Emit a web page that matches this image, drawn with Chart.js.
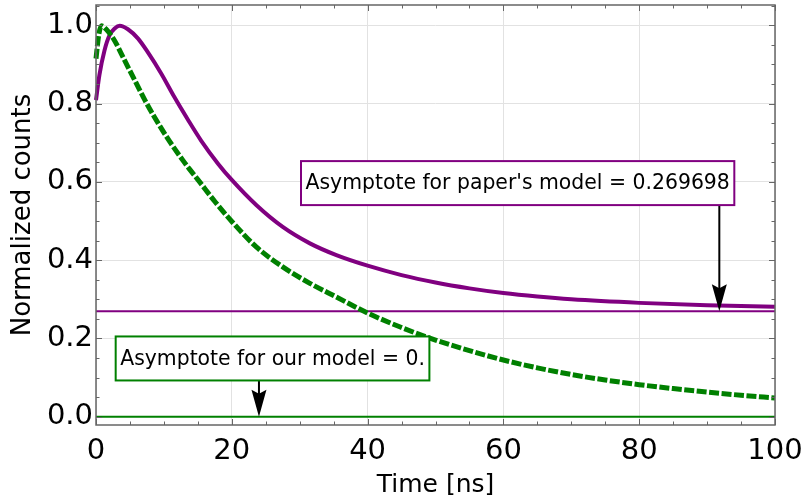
<!DOCTYPE html>
<html>
<head>
<meta charset="utf-8">
<script src="https://cdn.jsdelivr.net/npm/chart.js@4.4.0/dist/chart.umd.min.js"></script>
<style>
  body { margin: 0; background: #fff; }
  #wrap { width: 805px; height: 504px; }
</style>
</head>
<body>
<div id="wrap"><canvas id="decayChart" width="805" height="504"></canvas></div>
<script>
// values
const timePurple = [0, 0.5, 1.25, 2, 2.75, 3.5, 4.7, 6.2, 7.6, 9.6, 11.5, 13.5, 15.5, 18, 20, 23.6, 27.5, 31.5, 35.4, 40, 45, 50, 55, 60, 65, 70, 80, 90, 100];
const countsPurple = [0.809, 0.873, 0.936, 0.975, 0.992, 0.999, 0.990, 0.966, 0.932, 0.877, 0.818, 0.760, 0.705, 0.646, 0.605, 0.541, 0.485, 0.443, 0.413, 0.386, 0.362, 0.343, 0.328, 0.316, 0.307, 0.300, 0.291, 0.285, 0.281];

const timeGreen = [0, 0.4, 0.8, 1.5, 2.7, 4.2, 5.7, 7.2, 8.6, 10.6, 12.8, 13.8, 15, 17.5, 20, 23.6, 27.5, 31.5, 35.4, 40, 45, 50, 55, 60, 65, 70, 75, 80, 85, 90, 95, 100];
const countsGreen = [0.915, 0.975, 0.999, 0.990, 0.962, 0.911, 0.860, 0.809, 0.766, 0.710, 0.655, 0.632, 0.606, 0.550, 0.499, 0.434, 0.383, 0.341, 0.306, 0.265, 0.228, 0.196, 0.169, 0.145, 0.125, 0.108, 0.094, 0.082, 0.072, 0.063, 0.055, 0.048];

const asymptotePaper = 0.269698;
const asymptoteOurs = 0;

const xTicks = [0, 20, 40, 60, 80, 100];
const yTicks = [0, 0.2, 0.4, 0.6, 0.8, 1.0];

const noteLabels = ["Asymptote for paper's model = 0.269698", "Asymptote for our model = 0."];
const noteBoxCenter = [[62.1, 0.597], [26.0, 0.149]];
const noteArrowX = [91.8, 24];
const noteArrowY = [asymptotePaper, asymptoteOurs];
const noteColors = ['#800080', '#008000'];

function toPoints(xs, ys){
    let pts = [];
    for(let i = 0; i < xs.length; i++)
        pts.push({x: xs[i], y: ys[i]});
    return pts;
}

Chart.defaults.font.family = "'DejaVu Sans', sans-serif";
Chart.defaults.color = '#000';

// frame on all four sides with inward major and minor ticks
const framePlugin = {
    id: 'frame',
    afterDraw(chart){
        const ctx = chart.ctx;
        const a = chart.chartArea;
        const xs = chart.scales.x, ys = chart.scales.y;
        ctx.save();
        ctx.strokeStyle = '#666';
        ctx.lineWidth = 1;
        for(let v = 0; v <= 100; v += 5){
            let px = Math.round(xs.getPixelForValue(v)) + 0.5;
            let len = (v % 20 === 0) ? 6 : 3.5;
            ctx.beginPath();
            ctx.moveTo(px, a.bottom); ctx.lineTo(px, a.bottom - len);
            ctx.moveTo(px, a.top); ctx.lineTo(px, a.top + len);
            ctx.stroke();
        }
        for(let k = 0; k <= 21; k++){
            let v = k * 0.05;
            let py = Math.round(ys.getPixelForValue(v)) + 0.5;
            let len = (k % 4 === 0) ? 6 : 3.5;
            ctx.beginPath();
            ctx.moveTo(a.left, py); ctx.lineTo(a.left + len, py);
            ctx.moveTo(a.right, py); ctx.lineTo(a.right - len, py);
            ctx.stroke();
        }
        ctx.lineWidth = 1.5;
        ctx.strokeRect(a.left, a.top, a.right - a.left, a.bottom - a.top);
        ctx.restore();
    }
};

// the two boxed notes with arrows
const notePlugin = {
    id: 'notes',
    afterDatasetsDraw(chart){
        const ctx = chart.ctx;
        const xs = chart.scales.x, ys = chart.scales.y;
        ctx.save();
        ctx.font = "20.4px 'DejaVu Sans'";
        for(let i = 0; i < noteLabels.length; i++){
            let cx = xs.getPixelForValue(noteBoxCenter[i][0]);
            let cy = ys.getPixelForValue(noteBoxCenter[i][1]);
            let w = ctx.measureText(noteLabels[i]).width + 9;
            let h = 44;
            let left = cx - w / 2, top = cy - h / 2;

            // arrow
            let ax = xs.getPixelForValue(noteArrowX[i]);
            let tipY = ys.getPixelForValue(noteArrowY[i]);
            ctx.strokeStyle = '#000';
            ctx.fillStyle = '#000';
            ctx.lineWidth = 2;
            ctx.beginPath();
            ctx.moveTo(ax, top + h);
            ctx.lineTo(ax, tipY - 20);
            ctx.stroke();
            ctx.beginPath();
            ctx.moveTo(ax, tipY);
            ctx.lineTo(ax - 7.5, tipY - 27);
            ctx.lineTo(ax, tipY - 23);
            ctx.lineTo(ax + 7.5, tipY - 27);
            ctx.closePath();
            ctx.fill();

            // box
            ctx.fillStyle = '#fff';
            ctx.fillRect(left, top, w, h);
            ctx.strokeStyle = noteColors[i];
            ctx.lineWidth = 2;
            ctx.strokeRect(left, top, w, h);
            ctx.fillStyle = '#000';
            ctx.textAlign = 'center';
            ctx.textBaseline = 'middle';
            ctx.fillText(noteLabels[i], cx, cy + 1);
        }
        ctx.restore();
    }
};

const data = {
    datasets: [{
        label: 'our model',
        data: toPoints(timeGreen, countsGreen),
        borderColor: '#008000',
        borderWidth: 5,
        borderDash: [10, 2.5],
        cubicInterpolationMode: 'monotone',
        pointRadius: 0
    }, {
        label: "paper's model",
        data: toPoints(timePurple, countsPurple),
        borderColor: '#800080',
        borderWidth: 4,
        cubicInterpolationMode: 'monotone',
        pointRadius: 0
    }, {
        label: 'paper asymptote',
        data: [{x: 0, y: asymptotePaper}, {x: 100, y: asymptotePaper}],
        borderColor: '#800080',
        borderWidth: 2,
        pointRadius: 0
    }, {
        label: 'our asymptote',
        data: [{x: 0, y: asymptoteOurs}, {x: 100, y: asymptoteOurs}],
        borderColor: '#008000',
        borderWidth: 2,
        pointRadius: 0
    }]
};

const config = {
    type: 'line',
    data: data,
    options: {
        responsive: false,
        animation: false,
        clip: false,
        layout: { padding: { top: 5, right: 30, left: 0, bottom: 0 } },
        plugins: { legend: { display: false }, tooltip: { enabled: false } },
        scales: {
            x: {
                type: 'linear',
                min: 0,
                max: 100,
                afterBuildTicks: (scale) => { scale.ticks = xTicks.map(v => ({value: v})); },
                afterFit: (scale) => { scale.height = 79; scale.paddingLeft = 0; scale.paddingRight = 0; },
                ticks: { font: { size: 29 }, padding: 9, maxRotation: 0 },
                grid: { color: '#e2e2e2', drawTicks: false },
                border: { display: false },
                title: { display: true, text: 'Time [ns]', font: { size: 25 }, padding: { top: 0, bottom: 4 } }
            },
            y: {
                type: 'linear',
                min: -0.021,
                max: 1.052,
                afterBuildTicks: (scale) => { scale.ticks = yTicks.map(v => ({value: v})); },
                afterFit: (scale) => { scale.width = 96; scale.paddingTop = 0; scale.paddingBottom = 0; },
                ticks: { font: { size: 29 }, padding: 3, callback: (v) => v.toFixed(1) },
                grid: { color: '#e2e2e2', drawTicks: false },
                border: { display: false },
                title: { display: true, text: 'Normalized counts', font: { size: 26 }, padding: { top: 8, bottom: 0 } }
            }
        }
    },
    plugins: [framePlugin, notePlugin]
};

let ctx = document.getElementById('decayChart').getContext('2d');
new Chart(ctx, config);
</script>
</body>
</html>
